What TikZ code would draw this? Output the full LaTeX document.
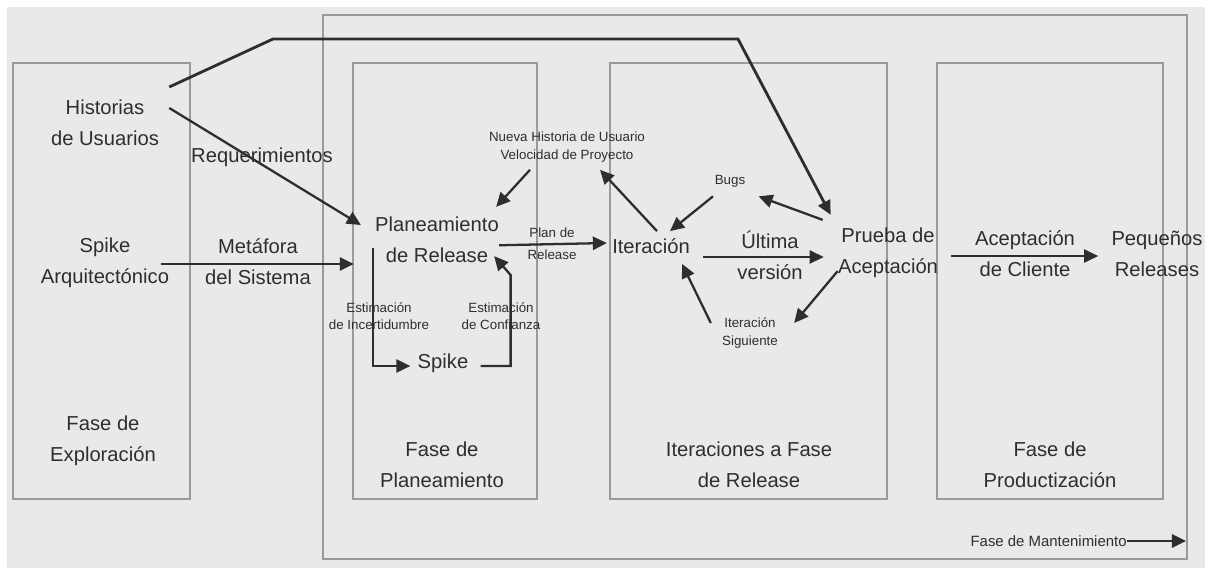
\documentclass[tikz,border=0pt]{standalone}
\usepackage{fontspec}
\setmainfont{Liberation Sans}
\usetikzlibrary{arrows.meta}
\definecolor{bggray}{HTML}{E8E9E9}
\definecolor{framegray}{HTML}{9A9A9A}
\definecolor{inkgray}{HTML}{2E2E2E}
\tikzset{
  phase/.style={draw=framegray, line width=1.1pt},
  lbl/.style={font=\fontsize{11.5}{17.5}\selectfont, align=center, text=inkgray, inner sep=0pt},
  tiny/.style={font=\fontsize{7.6}{10.5}\selectfont, align=center, text=inkgray, inner sep=0pt},
  flow/.style={draw=inkgray, line width=1.3pt, -{Triangle[length=8pt,width=7.5pt]}},
}

\begin{document}
\begin{tikzpicture}[x=0.02cm,y=-0.02cm]
  \useasboundingbox (0,0) rectangle (1211,568);
  \fill[white] (0,0) rectangle (1211,568);
  \fill[bggray] (7,7) rectangle (1205,568);
  % fases
  \draw[phase] (323,15) rectangle (1187,559);
  \draw[phase] (13,63) rectangle (190,499);
  \draw[phase] (353,63) rectangle (537,499);
  \draw[phase] (610,63) rectangle (887,499);
  \draw[phase] (937,63) rectangle (1163,499);

  % exploracion
  \node[lbl] (hist) at (105,123) {Historias\\de Usuarios};
  \node[lbl] (spikea) at (105,263) {Spike\\Arquitectónico};
  \node[lbl] (fexp) at (103,441) {Fase de\\Exploración};
  \node[lbl] (req) at (262,157) {Requerimientos};
  \node[lbl] (metaf) at (258,262) {Metáfora\\del Sistema};

  % planeamiento
  \node[lbl] (plan) at (437,240) {Planeamiento\\de Release};
  \node[tiny, font=\fontsize{7.6}{12.5}\selectfont] (planrel) at (552,244) {Plan de\\Release};
  \node[tiny] (nueva) at (567,147) {Nueva Historia de Usuario\\Velocidad de Proyecto};
  \node[tiny, font=\fontsize{7.6}{10}\selectfont] (estinc) at (379,316) {Estimación\\de Incertidumbre};
  \node[tiny, font=\fontsize{7.6}{10}\selectfont] (estconf) at (501,316) {Estimación\\de Confianza};
  \node[lbl] (spike) at (443,363) {Spike};
  \node[lbl] (fplan) at (442,465) {Fase de\\Planeamiento};

  % iteraciones
  \node[lbl] (iter) at (651,246) {Iteración};
  \node[tiny] (bugs) at (730,181) {Bugs};
  \node[lbl] (ultima) at (770,255) {Última\\versión};
  \node[lbl] (prueba) at (888,253) {Prueba de\\Aceptación};
  \node[tiny] (isig) at (750,333) {Iteración\\Siguiente};
  \node[lbl] (fiter) at (749,465) {Iteraciones a Fase\\de Release};

  % productizacion
  \node[lbl] (acep) at (1025,254) {Aceptación\\de Cliente};
  \node[lbl] (peq) at (1157,254) {Pequeños\\Releases};
  \node[lbl] (fprod) at (1050,465) {Fase de\\Productización};

  % mantenimiento
  \node[font=\fontsize{8.5}{10}\selectfont, text=inkgray, inner sep=0pt, anchor=east] (fmant) at (1127,541) {Fase de Mantenimiento};
  \coordinate (mantend) at (1186,541);

  % conectores
  \coordinate (hb1) at (273,39);
  \coordinate (hb2) at (738,39);
  \draw[flow, line width=1.6pt] ([shift={(10,-36)}]hist.east) -- (hb1) -- (hb2) -- ([shift={(-7,-13)}]prueba.north west);
  \draw[flow] ([shift={(10,-15)}]hist.east) -- ([shift={(-14,-15)}]plan.west);
  \draw[flow] ([shift={(-8,1)}]spikea.east) -- ([shift={(-21,24)}]plan.west);
  \draw[flow] ([yshift=-3]plan.east) -- ([shift={(-5,-3)}]iter.west);
  \draw[flow] ([shift={(-37,7)}]nueva.south) -- ([shift={(-3,-10)}]plan.north east);
  \draw[flow] ([shift={(6,-7)}]iter.north) -- ([shift={(33,7)}]nueva.south);
  \draw[flow] ([shift={(-2,-15)}]plan.south west) |- ([shift={(-7,3)}]spike.west);
  \draw[flow] ([shift={(12,3)}]spike.east) -| ++(30,-91) -- ([shift={(-5,-7)}]plan.south east);
  \draw[flow] ([shift={(-17,9)}]bugs.south) -- ([shift={(19,-7)}]iter.north);
  \draw[flow] ([shift={(-15,-8)}]prueba.north west) -- ([shift={(13,9)}]bugs.south east);
  \draw[flow] ([shift={(13,11)}]iter.east) -- ([shift={(-14,4)}]prueba.west);
  \draw[flow] ([yshift=4]prueba.south west) -- ([shift={(16,-10)}]isig.east);
  \draw[flow] ([shift={(-11,-10)}]isig.west) -- ([shift={(31,10)}]iter.south);
  \draw[flow] ([shift={(13,3)}]prueba.east) -- ([shift={(-13,2)}]peq.west);
  \draw[flow] (fmant.east) -- (mantend);
\end{tikzpicture}
\end{document}
